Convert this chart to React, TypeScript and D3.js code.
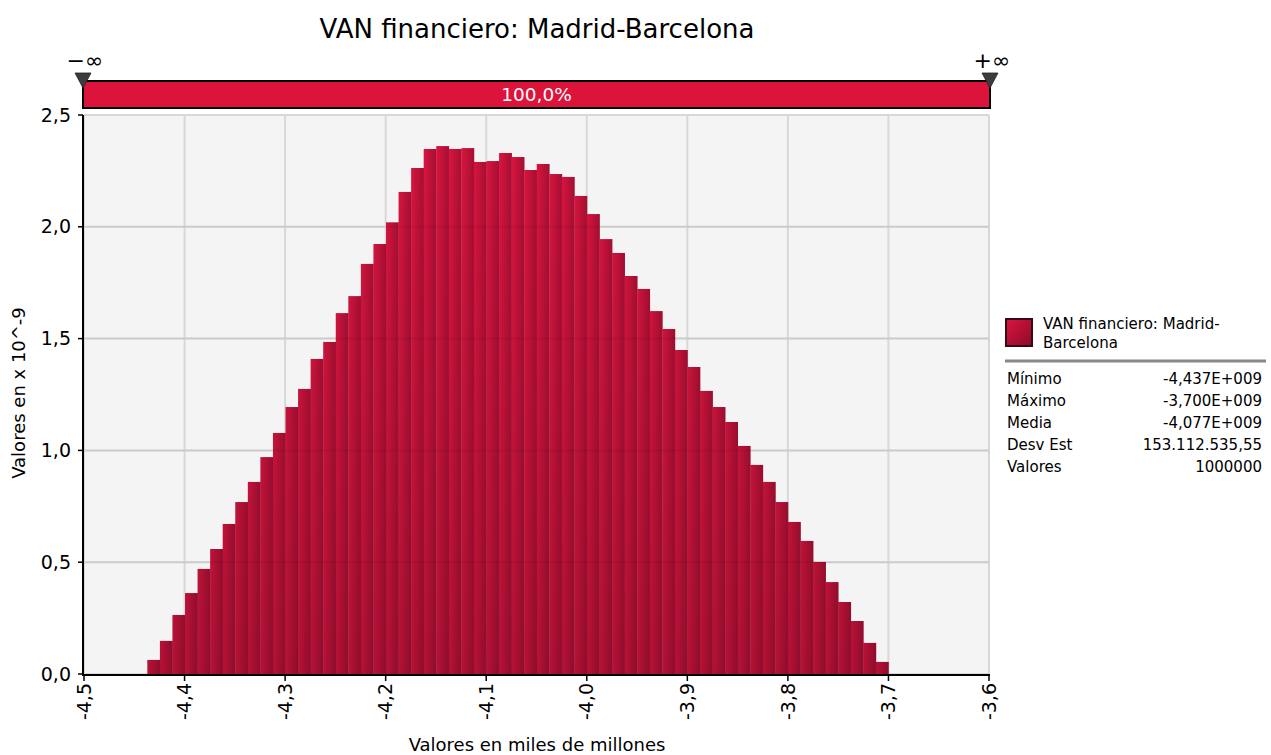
import React from "react";
import * as d3 from "d3";

const title = "VAN financiero: Madrid-Barcelona";
const xLabel = "Valores en miles de millones";
const yLabel = "Valores en x 10^-9";
const binMin = -4.437;
const binMax = -3.7;
const densities = [
  0.063, 0.148, 0.264, 0.362, 0.47, 0.559, 0.671, 0.769, 0.859, 0.97,
  1.078, 1.194, 1.275, 1.409, 1.485, 1.614, 1.69, 1.834, 1.923, 2.02,
  2.156, 2.263, 2.348, 2.361, 2.348, 2.352, 2.29, 2.294, 2.33, 2.312,
  2.254, 2.281, 2.236, 2.223, 2.138, 2.057, 1.945, 1.883, 1.78, 1.722,
  1.623, 1.543, 1.449, 1.373, 1.266, 1.194, 1.127, 1.02, 0.935, 0.859,
  0.769, 0.68, 0.595, 0.501, 0.411, 0.322, 0.237, 0.139, 0.054,
];
const xTicks = [-4.5, -4.4, -4.3, -4.2, -4.1, -4.0, -3.9, -3.8, -3.7, -3.6];
const yTicks = [0, 0.5, 1.0, 1.5, 2.0, 2.5];
const statLabels = ["Mínimo", "Máximo", "Media", "Desv Est", "Valores"];
const statValues = ["-4,437E+009", "-3,700E+009", "-4,077E+009", "153.112.535,55", "1000000"];
const legendLines = ["VAN financiero: Madrid-", "Barcelona"];
const bandText = "100,0%";

const FONT = "'DejaVu Sans', Verdana, sans-serif";

export default function App() {
  const W = 1271, H = 755;
  const left = 84, right = 989, top = 115, bottom = 674;
  const x = d3.scaleLinear().domain([-4.5, -3.6]).range([left, right]);
  const y = d3.scaleLinear().domain([0, 2.5]).range([bottom, top]);
  const bw = (binMax - binMin) / densities.length;
  const fmt1 = (v: number) => d3.format(".1f")(v).replace(".", ",").replace("−", "-");

  const bars = densities.map((d, i) => {
    const x0 = x(binMin + i * bw);
    const x1 = x(binMin + (i + 1) * bw);
    return { x: x0, w: x1 - x0, y: y(d), h: y(0) - y(d) };
  });

  return (
    <svg width={W} height={H} style={{ position: "absolute", left: 0, top: 0, background: "#fff" }} fontFamily={FONT}>
      <defs>
        <linearGradient id="barH" x1="0" y1="0" x2="1" y2="0">
          <stop offset="0" stopColor="#dc1540" />
          <stop offset="1" stopColor="#a60f33" />
        </linearGradient>
        <linearGradient id="barV" gradientUnits="userSpaceOnUse" x1="0" y1={top} x2="0" y2={bottom}>
          <stop offset="0" stopColor="#000" stopOpacity="0" />
          <stop offset="1" stopColor="#000" stopOpacity="0.16" />
        </linearGradient>
        <linearGradient id="legSw" x1="0" y1="0" x2="1" y2="1">
          <stop offset="0" stopColor="#dc1540" />
          <stop offset="1" stopColor="#8a0b28" />
        </linearGradient>
      </defs>

      <text x={537} y={38} textAnchor="middle" fontSize={26} fill="#000">{title}</text>

      {/* plot background */}
      <rect x={left} y={top} width={right - left} height={bottom - top} fill="#f4f4f4" stroke="#dddddd" />

      {/* grid */}
      {xTicks.map((t) => (
        <line key={"gx" + t} x1={x(t)} x2={x(t)} y1={top} y2={bottom} stroke="#d8d8d8" strokeWidth={2} />
      ))}
      {yTicks.map((t) => (
        <line key={"gy" + t} x1={left} x2={right} y1={y(t)} y2={y(t)} stroke="#d8d8d8" strokeWidth={2} />
      ))}

      {/* bars */}
      {bars.map((b, i) => (
        <rect key={"b" + i} x={b.x} y={b.y} width={b.w + 0.3} height={b.h} fill="url(#barH)" />
      ))}
      {bars.map((b, i) => (
        <rect key={"v" + i} x={b.x} y={b.y} width={b.w + 0.3} height={b.h} fill="url(#barV)" />
      ))}
      {yTicks.slice(1, 5).map((t) => (
        <line key={"go" + t} x1={left} x2={right} y1={y(t)} y2={y(t)} stroke="#000" strokeOpacity={0.06} strokeWidth={2} />
      ))}

      {/* axes */}
      <line x1={left - 1} x2={left - 1} y1={top} y2={bottom + 2} stroke="#000" strokeWidth={2} />
      <line x1={left - 1} x2={right + 1} y1={bottom + 1} y2={bottom + 1} stroke="#000" strokeWidth={2} />
      {yTicks.map((t) => (
        <g key={"yt" + t}>
          <line x1={left - 6} x2={left - 1} y1={y(t)} y2={y(t)} stroke="#000" strokeWidth={1.5} />
          <text x={left - 13} y={y(t)} dy="0.35em" textAnchor="end" fontSize={19} fill="#000">{fmt1(t)}</text>
        </g>
      ))}
      {xTicks.map((t) => (
        <g key={"xt" + t}>
          <line x1={x(t)} x2={x(t)} y1={bottom + 1} y2={bottom + 7} stroke="#000" strokeWidth={1.5} />
          <text transform={`translate(${x(t)},${bottom + 9}) rotate(-90)`} dy="0.35em" textAnchor="end" fontSize={19} fill="#000">{fmt1(t)}</text>
        </g>
      ))}

      <text transform={`translate(25,393) rotate(-90)`} textAnchor="middle" fontSize={18} fill="#000">{yLabel}</text>
      <text x={537} y={751} textAnchor="middle" fontSize={18} fill="#000">{xLabel}</text>

      {/* top band */}
      <rect x={x(-4.5) - 1} y={81} width={x(-3.6) - x(-4.5) + 2} height={27} fill="#dc143c" stroke="#000" strokeWidth={2} />
      <text x={(x(-4.5) + x(-3.6)) / 2} y={95} dy="0.35em" textAnchor="middle" fontSize={18.5} fill="#fff">{bandText}</text>
      {[x(-4.5) - 1, x(-3.6) + 1].map((px, i) => (
        <g key={"tri" + i}>
          <path d={`M${px - 8},73 L${px + 8},73 L${px},88 Z`} fill="#3c3c3c" stroke="#222" strokeWidth={0.8} />
          <text x={px + 2} y={68} textAnchor="middle" fontSize={22} fill="#000">{i === 0 ? "−∞" : "+∞"}</text>
        </g>
      ))}

      {/* legend */}
      <rect x={1006} y={319} width={26} height={27} fill="url(#legSw)" stroke="#3a0a14" strokeWidth={2} />
      {legendLines.map((l, i) => (
        <text key={"ll" + i} x={1043} y={329 + i * 19} textAnchor="start" fontSize={15} fill="#000">{l}</text>
      ))}
      <line x1={1005} x2={1266} y1={361} y2={361} stroke="#888" strokeWidth={3} />
      {statLabels.map((s, i) => (
        <g key={"st" + i}>
          <text x={1007} y={384 + i * 22} fontSize={15} fill="#000">{s}</text>
          <text x={1262} y={384 + i * 22} textAnchor="end" fontSize={15} fill="#000">{statValues[i]}</text>
        </g>
      ))}
    </svg>
  );
}
